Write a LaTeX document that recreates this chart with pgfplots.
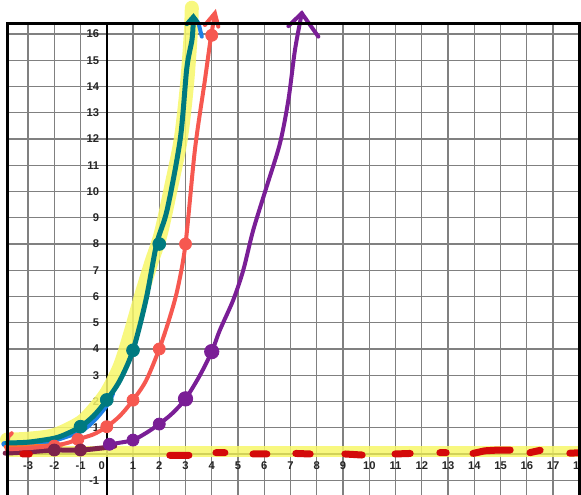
\documentclass[border=0pt]{standalone}
\usepackage{pgfplots}
\pgfplotsset{compat=1.18}
\usepackage{fontspec}
\setmainfont{Liberation Sans}
\definecolor{cteal}{RGB}{0,122,128}
\definecolor{ccoral}{RGB}{246,88,80}
\definecolor{cpurple}{RGB}{122,30,150}
\definecolor{cblue}{RGB}{30,128,230}
\definecolor{cmaroon}{RGB}{125,35,75}
\definecolor{cdred}{RGB}{212,10,10}
\definecolor{chl}{RGB}{247,247,105}
\definecolor{corange}{RGB}{255,112,40}
\begin{document}
\begin{tikzpicture}
\begin{axis}[
  x=13.125pt, y=13.125pt,
  xmin=-3.79, xmax=18, ymin=-1.562, ymax=16.41,
  axis lines=middle,
  axis line style={-, line width=1pt, black},
  clip=false,
  xtick={-3,...,18}, ytick={-1,...,16},
  hide obscured x ticks=false,
  xticklabels={-3,-2,-1,\llap{0\,},1,2,3,4,5,6,7,8,9,10,11,12,13,14,15,16,17,18},
  major tick length=0pt,
  grid=major,
  grid style={line width=0.65pt, black!50},
  /pgf/number format/assume math mode=true,
  tick label style={font=\fontsize{5.6}{7}\selectfont\bfseries, text=black!85},
  xticklabel style={yshift=-0.5pt},
  yticklabel style={xshift=-0.3pt},
  unbounded coords=jump,
]
\coordinate (bl) at (axis cs:-4.067,-1.562);
\coordinate (tr) at (axis cs:18.067,17.295);
% yellow band along x axis
\addplot[line width=5.5pt, chl, opacity=0.85] coordinates {(-3.79,0.1) (18.07,0.1)};
% yellow highlight around teal curve
\addplot[line width=7pt, chl, opacity=0.85, line cap=round, smooth] coordinates {
 (-3.8,0.55) (-3,0.58) (-2,0.72) (-1,1.2) (-0.5,1.7) (0,2.35) (0.5,3.35) (0.9,4.6) (1.3,6.0) (1.7,7.3) (2.06,8.4) (2.5,10.4) (2.82,12) (3.05,14) (3.2,16) (3.24,17.0)};
% blue under teal
\addplot[line width=3pt, cblue, line cap=round, smooth] coordinates {
 (-3.9,0.38) (-3,0.4) (-2,0.55) (-1,0.9) (-0.5,1.3) (0,1.9) (0.2,2.3)};
\addplot[line width=2pt, cblue, line cap=round] coordinates {(3.35,16.6) (3.5,16.4) (3.62,15.9)};
% maroon tail
\addplot[line width=2.5pt, cmaroon, line cap=round, smooth] coordinates {
 (-3.87,0.03) (-3,0.08) (-2,0.15) (-1,0.15) (0,0.25) (0.3,0.3)};
% orange
\addplot[line width=2pt, corange, line cap=round] coordinates {(-3.85,0.27) (-2.5,0.3) (-1.7,0.36)};
% red curve
\addplot[line width=2pt, ccoral, line cap=round, smooth] coordinates {
 (-3.8,0.18) (-3,0.22) (-2,0.32) (-1.5,0.42) (-1.1,0.56) (-0.5,0.75) (0,1.04) (0.5,1.45) (1,2.05) (1.5,2.8) (2,4.0) (2.4,5.2) (2.7,6.3) (3,8.0) (3.36,11.6) (3.74,14.25) (3.97,15.9) (4.12,16.72)};
\addplot[line width=2pt, ccoral, line cap=round] coordinates {(-3.81,0.18) (-3.75,0.66) (-3.62,0.79)};
\addplot[line width=2pt, ccoral, line cap=round] coordinates {(3.74,16.34) (4.12,16.79) (4.25,16.28)};
% purple curve
\addplot[line width=2pt, cpurple, line cap=round, smooth] coordinates {
 (0.1,0.37) (0.5,0.43) (1,0.53) (1.5,0.8) (2,1.14) (2.5,1.55) (3,2.1) (3.55,3.0) (4,3.9) (4.31,4.72) (4.82,5.87) (5.2,7.0) (5.58,8.53) (6.09,10.18) (6.6,11.84) (6.92,13.49) (7.17,15.39) (7.43,16.79)};
\addplot[line width=2pt, cpurple, line cap=round] coordinates {(6.92,16.3) (7.43,16.79) (8.06,15.9)};
% teal curve
\addplot[line width=2.5pt, cteal, line cap=round, smooth] coordinates {
 (-3.8,0.42) (-3,0.45) (-2,0.6) (-1.5,0.78) (-1,1.04) (-0.5,1.45) (0,2.05) (0.5,2.8) (1,3.95) (1.5,5.9) (1.9,8.0) (2.3,9.3) (2.8,12) (3.05,14.7) (3.25,15.8) (3.3,16.6)};
\addplot[line width=2.2pt, cteal, line cap=round] coordinates {(3.05,16.38) (3.3,16.66) (3.45,16.45)};
% dots
\addplot[only marks, mark=*, mark size=3pt, ccoral] coordinates {(-2,0.3) (-1.1,0.56) (0,1.04) (1,2.05) (2,4.0) (3,8.0) (4,15.95)};
\addplot[only marks, mark=*, mark size=3pt, cmaroon] coordinates {(-2,0.15) (-1,0.15)};
\addplot[only marks, mark=*, mark size=3pt, cpurple] coordinates {(0.1,0.37) (1,0.53) (2,1.14)};
\addplot[only marks, mark=*, mark size=3.6pt, cpurple] coordinates {(3,2.1) (4,3.9)};
\addplot[only marks, mark=*, mark size=3.2pt, cteal] coordinates {(-1,1.04) (0,2.06) (1,3.95) (2,8.0)};
% red dashes along x axis
\addplot[line width=3.5pt, cdred, line cap=round] coordinates {
 (-3.2,0) (-2.95,0) (nan,nan)
 (2.4,-0.05) (3.13,-0.05) (nan,nan)
 (4.16,0.05) (4.5,0.05) (nan,nan)
 (5.57,0) (6.1,0) (nan,nan)
 (7.2,0.02) (7.75,0) (nan,nan)
 (9.07,0) (9.73,-0.04) (nan,nan)
 (10.98,0) (11.56,0.02) (nan,nan)
 (12.69,0.05) (12.93,0.05) (nan,nan)
 (13.95,0.02) (14.4,0.12) (14.9,0.15) (15.37,0.15) (nan,nan)
 (16.12,0.05) (16.51,0.14) (nan,nan)
 (17.64,0.03) (18.1,0.05)};
% frame (left, top, right)
\draw[line width=1.3pt] (rel axis cs:0,0) -- (rel axis cs:0,1) -- (rel axis cs:1,1) -- (rel axis cs:1,0);
\end{axis}
\pgfresetboundingbox
\useasboundingbox (bl) rectangle (tr);
\end{tikzpicture}
\end{document}
